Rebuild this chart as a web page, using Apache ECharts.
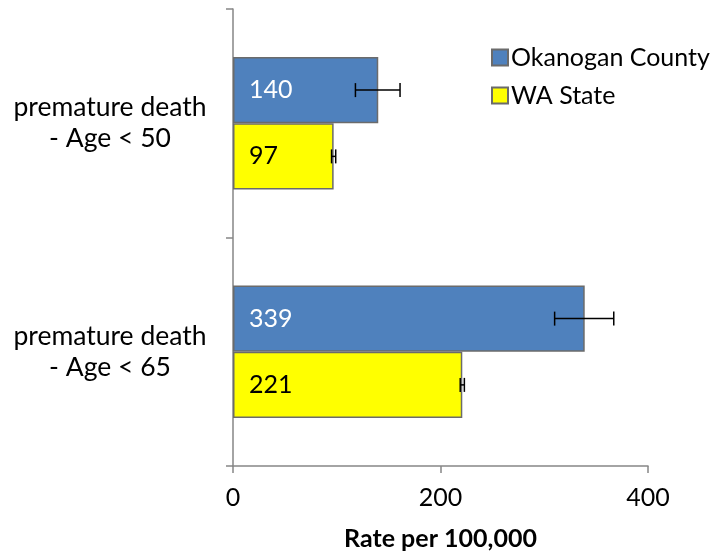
<!DOCTYPE html>
<html>
<head>
<meta charset="utf-8">
<script src="https://cdn.jsdelivr.net/npm/echarts@6/dist/echarts.min.js"></script>
<style>
  html, body { margin: 0; padding: 0; background: #fff; }
  #main { width: 715px; height: 557px; }
</style>
</head>
<body>
<div id="main"></div>
<script>
// categories, top to bottom
const categories = ['premature death\n- Age < 50', 'premature death\n- Age < 65'];
const seriesNames = ['Okanogan County', 'WA State'];
const countyValues = [140, 339];
const stateValues = [97, 221];
// confidence intervals [low, high]
const countyCI = [[118, 161], [310, 367]];
const stateCI = [[95, 99], [219, 223]];
const xTicks = [0, 200, 400];

const FONT = 'Lato';
const GAP = 0.42; // barCategoryGap as fraction

const chart = echarts.init(document.getElementById('main'));

// error bar drawing, sign = -1 puts it on the upper bar, +1 lower bar
function errorBar(sign) {
    return function (params, api) {
        const cat = api.value(0);
        const lo = api.coord([api.value(1), cat]);
        const hi = api.coord([api.value(2), cat]);
        const band = api.size([0, 1])[1];
        const barH = band * (1 - GAP) / 2;
        const y = lo[1] + sign * barH / 2;
        const cap = 7;
        const style = { stroke: '#000', lineWidth: 1.5 };
        return {
            type: 'group',
            children: [
                { type: 'line', shape: { x1: lo[0], y1: y, x2: hi[0], y2: y }, style: style },
                { type: 'line', shape: { x1: lo[0], y1: y - cap, x2: lo[0], y2: y + cap }, style: style },
                { type: 'line', shape: { x1: hi[0], y1: y - cap, x2: hi[0], y2: y + cap }, style: style }
            ]
        };
    };
}

const option = {
    animation: false,
    backgroundColor: '#fff',
    textStyle: { fontFamily: FONT },
    grid: { left: 233, top: 9, right: 67, bottom: 91, containLabel: false },
    legend: {
        data: seriesNames,
        orient: 'vertical',
        left: 486,
        top: 40,
        itemWidth: 16,
        itemHeight: 16,
        itemGap: 13,
        icon: 'rect',
        textStyle: { fontSize: 25, color: '#000', fontFamily: FONT, padding: [0, 0, 0, -2] }
    },
    xAxis: {
        type: 'value',
        min: 0,
        max: 400,
        interval: 200,
        name: 'Rate per 100,000',
        nameLocation: 'middle',
        nameGap: 60,
        nameTextStyle: { fontSize: 25, fontWeight: 'bold', color: '#000', fontFamily: FONT },
        axisLine: { show: true, lineStyle: { color: '#868686', width: 1.5 } },
        axisTick: { show: true, length: 7, lineStyle: { color: '#868686', width: 1.5 } },
        axisLabel: {
            fontSize: 25, color: '#000', margin: 19,
            formatter: v => xTicks.indexOf(v) >= 0 ? String(v) : ''
        },
        splitLine: { show: false }
    },
    yAxis: {
        type: 'category',
        data: categories,
        inverse: true,
        axisLine: { show: true, lineStyle: { color: '#868686', width: 1.5 } },
        axisTick: { show: true, length: 7, lineStyle: { color: '#868686', width: 1.5 } },
        axisLabel: {
            fontSize: 26.5, color: '#000', align: 'center', margin: 123, lineHeight: 31
        }
    },
    series: [
        {
            name: seriesNames[0],
            type: 'bar',
            data: countyValues,
            barGap: '0%',
            barCategoryGap: (GAP * 100) + '%',
            itemStyle: { color: '#4F81BD', borderColor: '#6b6b6b', borderWidth: 1.5 },
            label: {
                show: true, position: 'insideLeft', distance: 16,
                color: '#fff', fontSize: 25, fontFamily: FONT
            }
        },
        {
            name: seriesNames[1],
            type: 'bar',
            data: stateValues,
            itemStyle: { color: '#FFFF00', borderColor: '#6b6b6b', borderWidth: 1.5 },
            label: {
                show: true, position: 'insideLeft', distance: 16,
                color: '#000', fontSize: 25, fontFamily: FONT
            }
        },
        {
            type: 'custom',
            renderItem: errorBar(-1),
            data: countyCI.map((d, i) => [i, d[0], d[1]]),
            encode: { y: 0, x: [1, 2] },
            z: 10
        },
        {
            type: 'custom',
            renderItem: errorBar(1),
            data: stateCI.map((d, i) => [i, d[0], d[1]]),
            encode: { y: 0, x: [1, 2] },
            z: 10
        }
    ]
};

chart.setOption(option);
</script>
</body>
</html>
